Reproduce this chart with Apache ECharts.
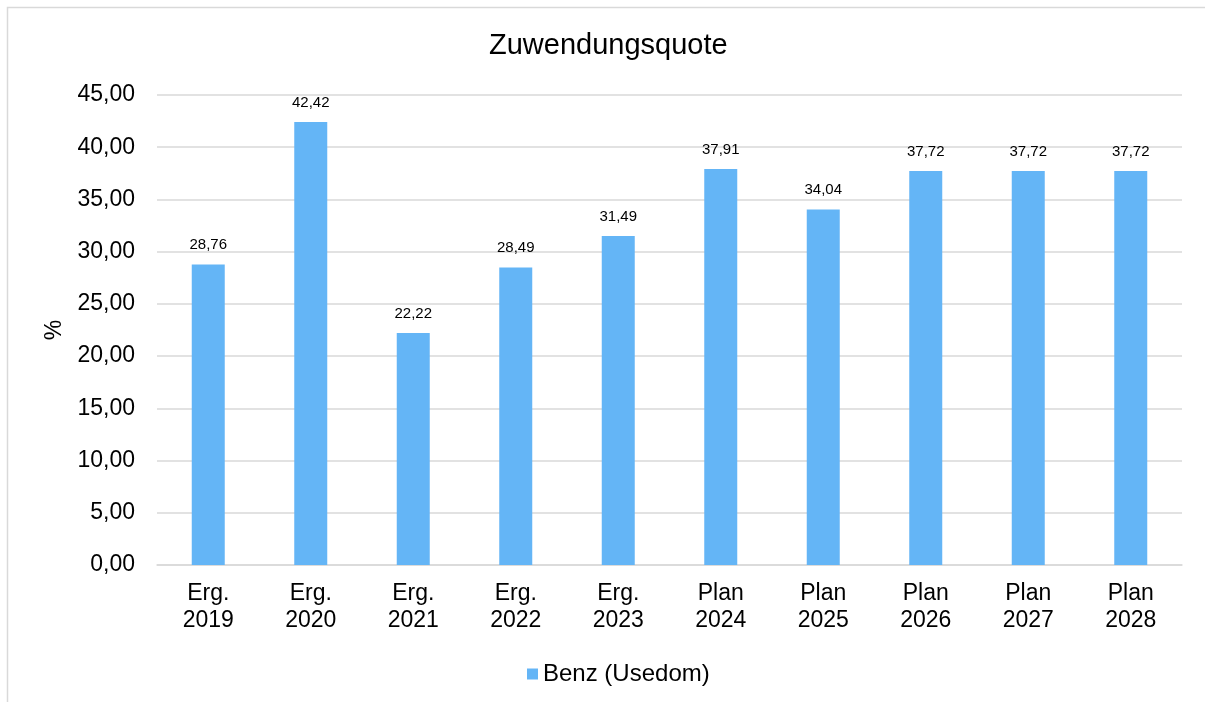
<!DOCTYPE html>
<html>
<head>
<meta charset="utf-8">
<script src="https://cdn.jsdelivr.net/npm/echarts@6/dist/echarts.min.js"></script>
<style>
  html, body { margin: 0; padding: 0; background: #fff; }
  #chart { width: 1205px; height: 702px; }
</style>
</head>
<body>
<div id="chart"></div>
<script>
var categories = ["Erg.\n2019", "Erg.\n2020", "Erg.\n2021", "Erg.\n2022", "Erg.\n2023",
  "Plan\n2024", "Plan\n2025", "Plan\n2026", "Plan\n2027", "Plan\n2028"];
var quote = [28.76, 42.42, 22.22, 28.49, 31.49, 37.91, 34.04, 37.72, 37.72, 37.72];
var seriesName = "Benz (Usedom)";

var fmt = function (v) { return v.toFixed(2).replace(".", ","); };
var font = "Liberation Sans, Arial, sans-serif";

var myChart = echarts.init(document.getElementById("chart"));
var option = {
  textStyle: { fontFamily: font },
  title: {
    text: "Zuwendungsquote",
    left: 484,
    top: 26,
    textStyle: { fontFamily: font, fontSize: 29, fontWeight: "normal", color: "#000" }
  },
  graphic: [{
    type: "rect",
    shape: { x: 7.5, y: 7.5, width: 1205, height: 700 },
    style: { fill: "none", stroke: "#d9d9d9", lineWidth: 1.5 },
    silent: true
  }],
  legend: {
    bottom: 11,
    left: 522,
    itemWidth: 11,
    itemHeight: 11,
    itemGap: 6,
    icon: "rect",
    textStyle: { fontFamily: font, fontSize: 24, color: "#000" },
    data: [seriesName]
  },
  grid: { left: 157, right: 23, top: 95, bottom: 137 },
  xAxis: {
    type: "category",
    data: categories,
    axisTick: { show: false },
    axisLine: { lineStyle: { color: "#d9d9d9", width: 1.5 } },
    axisLabel: { color: "#000", fontSize: 23, lineHeight: 27, margin: 15, fontFamily: font }
  },
  yAxis: {
    type: "value",
    min: 0,
    max: 45,
    interval: 5,
    name: "%",
    nameLocation: "middle",
    nameGap: 89,
    nameRotate: 90,
    nameTextStyle: { color: "#000", fontSize: 23, fontFamily: font },
    axisLabel: { color: "#000", fontSize: 23, margin: 22, formatter: fmt, fontFamily: font },
    splitLine: { lineStyle: { color: "#d9d9d9", width: 1.5 } }
  },
  series: [{
    name: seriesName,
    type: "bar",
    data: quote,
    barWidth: 33,
    itemStyle: { color: "#64b5f6" },
    label: {
      show: true,
      position: "top",
      distance: 12,
      color: "#000",
      fontSize: 15,
      fontFamily: font,
      formatter: function (p) { return fmt(p.value); }
    }
  }]
};
myChart.setOption(option);
window.addEventListener("resize", function () { myChart.resize(); });
</script>
</body>
</html>
